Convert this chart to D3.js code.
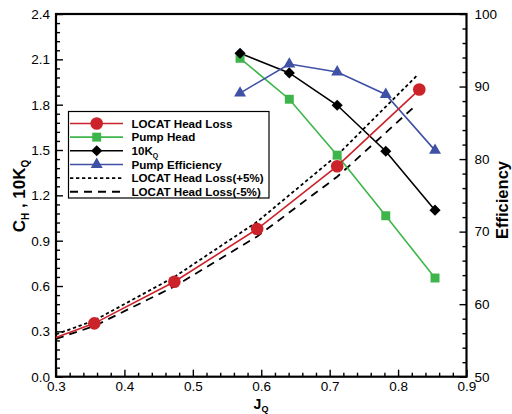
<!DOCTYPE html>
<html>
<head>
<meta charset="utf-8">
<script src="https://cdn.jsdelivr.net/npm/d3@7/dist/d3.min.js"></script>
<style>
  html, body { margin: 0; padding: 0; background: #fff; }
  svg { display: block; font-family: "Liberation Sans", Arial, Helvetica, sans-serif; }
</style>
</head>
<body>
<svg id="chart" width="512" height="414"></svg>
<script>
// ---- Data ----
const locatJ      = [0.300, 0.356, 0.473, 0.594, 0.711, 0.831];
const locatCH     = [0.260, 0.353, 0.628, 0.977, 1.393, 1.900];
const locatMarked = [false, true,  true,  true,  true,  true ];

const bandJ   = [0.300, 0.356, 0.473, 0.594, 0.711, 0.827];
const plus5   = [0.280, 0.372, 0.660, 1.025, 1.465, 1.990];
const minus5  = [0.250, 0.335, 0.597, 0.928, 1.323, 1.800];

const pumpJ      = [0.569, 0.641, 0.711, 0.782, 0.854];
const pumpHead   = [2.107, 1.836, 1.466, 1.065, 0.653];
const tenKQ      = [2.140, 2.010, 1.796, 1.492, 1.102];
const efficiency = [89.1, 93.1, 92.0, 88.9, 81.2];

const xTicks  = [0.3, 0.4, 0.5, 0.6, 0.7, 0.8, 0.9];
const yLTicks = [0.0, 0.3, 0.6, 0.9, 1.2, 1.5, 1.8, 2.1, 2.4];
const yRTicks = [50, 60, 70, 80, 90, 100];

const legendNames = ["LOCAT Head Loss", "Pump Head", "10K", "Pump Efficiency",
                     "LOCAT Head Loss(+5%)", "LOCAT Head Loss(-5%)"];

// ---- Layout ----
const L = 56, R = 466.5, T = 14, B = 376.7;
const RED = "#cc2229", GREEN = "#3db54a", BLACK = "#000", BLUE = "#3f51a5";

const svg = d3.select("#chart");
const x  = d3.scaleLinear().domain([0.3, 0.9]).range([L, R]);
const yL = d3.scaleLinear().domain([0, 2.4]).range([B, T]);
const yR = d3.scaleLinear().domain([50, 100]).range([B, T]);

function styleAxis(g, fs) {
  g.select(".domain").remove();
  g.selectAll(".tick line").attr("stroke", "#000").attr("stroke-width", 1.4);
  g.selectAll(".tick text").attr("fill", "#000").style("font-size", fs + "px")
    .style("font-family", '"Liberation Sans", Arial, sans-serif');
}

// minor ticks
const xMinor = d3.range(0.32, 0.9, 0.02).filter(v => Math.abs(v * 10 - Math.round(v * 10)) > 1e-6);
const yLMinor = d3.range(0.06, 2.4, 0.06).filter(v => Math.abs(v / 0.3 - Math.round(v / 0.3)) > 1e-6);
const yRMinor = d3.range(52, 100, 2).filter(v => v % 10 !== 0);

svg.append("g").attr("transform", `translate(0,${B})`)
  .call(d3.axisBottom(x).tickValues(xMinor).tickSize(-4).tickFormat(""))
  .call(g => styleAxis(g, 13));
svg.append("g").attr("transform", `translate(${L},0)`)
  .call(d3.axisLeft(yL).tickValues(yLMinor).tickSize(-4).tickFormat(""))
  .call(g => styleAxis(g, 13));
svg.append("g").attr("transform", `translate(${R},0)`)
  .call(d3.axisRight(yR).tickValues(yRMinor).tickSize(-4).tickFormat(""))
  .call(g => styleAxis(g, 13));

// major ticks
svg.append("g").attr("transform", `translate(0,${B})`)
  .call(d3.axisBottom(x).tickValues(xTicks).tickSize(-7).tickPadding(5).tickFormat(d3.format(".1f")))
  .call(g => styleAxis(g, 13.5));
svg.append("g").attr("transform", `translate(${L},0)`)
  .call(d3.axisLeft(yL).tickValues(yLTicks).tickSize(-7).tickPadding(6).tickFormat(d3.format(".1f")))
  .call(g => styleAxis(g, 13.5));
svg.append("g").attr("transform", `translate(${R},0)`)
  .call(d3.axisRight(yR).tickValues(yRTicks).tickSize(-7).tickPadding(8).tickFormat(d3.format("d")))
  .call(g => styleAxis(g, 13.5));

// frame
svg.append("rect").attr("x", L).attr("y", T).attr("width", R - L).attr("height", B - T)
  .attr("fill", "none").attr("stroke", "#000").attr("stroke-width", 2.2);

// ---- Series ----
const lineL = d3.line().x(d => x(d[0])).y(d => yL(d[1]));
const lineR = d3.line().x(d => x(d[0])).y(d => yR(d[1]));

const plusData  = bandJ.map((j, i) => [j, plus5[i]]);
const minusData = bandJ.map((j, i) => [j, minus5[i]]);
const locatData = locatJ.map((j, i) => [j, locatCH[i], locatMarked[i]]);
const headData  = pumpJ.map((j, i) => [j, pumpHead[i]]);
const kqData    = pumpJ.map((j, i) => [j, tenKQ[i]]);
const effData   = pumpJ.map((j, i) => [j, efficiency[i]]);

svg.append("path").datum(plusData).attr("d", lineL).attr("fill", "none")
  .attr("stroke", BLACK).attr("stroke-width", 1.8).attr("stroke-dasharray", "3.3,2.7");
svg.append("path").datum(minusData).attr("d", lineL).attr("fill", "none")
  .attr("stroke", BLACK).attr("stroke-width", 1.8).attr("stroke-dasharray", "8,6");

svg.append("path").datum(headData).attr("d", lineL).attr("fill", "none").attr("stroke", GREEN).attr("stroke-width", 1.6);
svg.append("path").datum(kqData).attr("d", lineL).attr("fill", "none").attr("stroke", BLACK).attr("stroke-width", 1.6);
svg.append("path").datum(effData).attr("d", lineR).attr("fill", "none").attr("stroke", BLUE).attr("stroke-width", 1.6);
svg.append("path").datum(locatData).attr("d", lineL).attr("fill", "none").attr("stroke", RED).attr("stroke-width", 1.6);

const sqSym  = d3.symbol().type(d3.symbolSquare).size(80);
const diaSym = d3.symbol().type(d3.symbolSquare).size(62);
const triSym = d3.symbol().type(d3.symbolTriangle).size(62);

svg.append("g").selectAll("path").data(headData).join("path")
  .attr("transform", d => `translate(${x(d[0])},${yL(d[1])})`).attr("d", sqSym).attr("fill", GREEN);
svg.append("g").selectAll("path").data(kqData).join("path")
  .attr("transform", d => `translate(${x(d[0])},${yL(d[1])}) rotate(45)`).attr("d", diaSym).attr("fill", BLACK);
svg.append("g").selectAll("path").data(effData).join("path")
  .attr("transform", d => `translate(${x(d[0])},${yR(d[1])})`).attr("d", triSym).attr("fill", BLUE);
svg.append("g").selectAll("circle").data(locatData.filter(d => d[2])).join("circle")
  .attr("cx", d => x(d[0])).attr("cy", d => yL(d[1])).attr("r", 6.3).attr("fill", RED);

// ---- Legend ----
const lg = svg.append("g");
lg.append("rect").attr("x", 68.5).attr("y", 111.5).attr("width", 200.5).attr("height", 86.5)
  .attr("fill", "#fff").attr("stroke", "#000").attr("stroke-width", 1.2);
const rowY0 = 123.5, rowDY = 13.65;
const legendStyles = [
  { c: RED,   dash: null,      m: "circle" },
  { c: GREEN, dash: null,      m: "square" },
  { c: BLACK, dash: null,      m: "diamond" },
  { c: BLUE,  dash: null,      m: "triangle" },
  { c: BLACK, dash: "3.3,2.7", m: null },
  { c: BLACK, dash: "8,6",     m: null }
];
legendNames.forEach((name, i) => {
  const yy = rowY0 + i * rowDY, st = legendStyles[i];
  lg.append("line").attr("x1", 70).attr("x2", 123).attr("y1", yy).attr("y2", yy)
    .attr("stroke", st.c).attr("stroke-width", st.dash ? 1.8 : 1.6)
    .attr("stroke-dasharray", st.dash);
  if (st.m === "circle") lg.append("circle").attr("cx", 96.7).attr("cy", yy).attr("r", 6.3).attr("fill", st.c);
  if (st.m === "square") lg.append("path").attr("transform", `translate(96.7,${yy})`).attr("d", sqSym).attr("fill", st.c);
  if (st.m === "diamond") lg.append("path").attr("transform", `translate(96.7,${yy}) rotate(45)`).attr("d", diaSym).attr("fill", st.c);
  if (st.m === "triangle") lg.append("path").attr("transform", `translate(96.7,${yy})`).attr("d", triSym).attr("fill", st.c);
  const t = lg.append("text").attr("x", 131.5).attr("y", yy + 4.1)
    .style("font-size", "11.6px").style("font-weight", "bold").attr("fill", "#000").text(name);
  if (i === 2) t.append("tspan").attr("dy", 3).style("font-size", "7px").text("Q");
});

// ---- Axis titles ----
const lt = svg.append("text").attr("transform", "translate(24.5,196) rotate(-90)")
  .attr("text-anchor", "middle").style("font-size", "17px").style("font-weight", "bold").attr("fill", "#000");
lt.append("tspan").text("C");
lt.append("tspan").attr("dy", 4).style("font-size", "10px").text("H");
lt.append("tspan").attr("dy", -4).text(" , 10K");
lt.append("tspan").attr("dy", 4).style("font-size", "10px").text("Q");

svg.append("text").attr("transform", "translate(508,200) rotate(-90)")
  .attr("text-anchor", "middle").style("font-size", "16.5px").style("font-weight", "bold").attr("fill", "#000")
  .text("Efficiency");

const bt = svg.append("text").attr("x", 261).attr("y", 408.5).attr("text-anchor", "middle")
  .style("font-size", "14px").style("font-weight", "bold").attr("fill", "#000");
bt.append("tspan").text("J");
bt.append("tspan").attr("dy", 3.5).style("font-size", "9px").text("Q");
</script>
</body>
</html>
